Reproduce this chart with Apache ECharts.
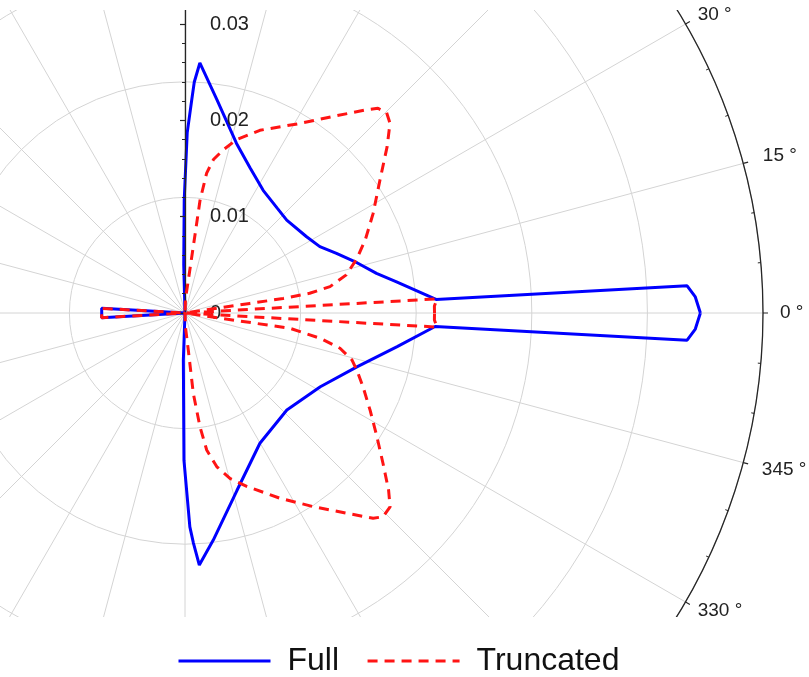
<!DOCTYPE html>
<html>
<head>
<meta charset="utf-8">
<script src="https://cdn.jsdelivr.net/npm/echarts@6/dist/echarts.min.js"></script>
<style>html,body{margin:0;padding:0;background:#fff}#c{width:809px;height:677px}</style>
</head>
<body>
<div id="c"></div>
<script>
// ---- data (angle in degrees, radius in data units) ----
const fullAngle = [0, 1.8, 3.1, 3.1, 8.4, 11.7, 16.3, 21.5, 26.2, 32.1, 42.4, 48.8, 57.5, 65.8, 73.1, 81.5, 86.6, 87.7, 88.2, 89.3, 90.4, 91.5, 92,
  176.7, 176.8, 183.2, 183.3,
  268, 268, 269.6, 271.3, 272.1, 273.25, 277.1, 286.3, 299.9, 316.4, 331.4, 342.6, 351.0, 356.9, 356.9, 358.2, 360];
const fullRadius = [0.0535, 0.0530, 0.0522, 0.0261, 0.0222, 0.0203, 0.0186, 0.0169, 0.0156, 0.0149, 0.0143, 0.0145, 0.0151, 0.0165, 0.0184, 0.0224, 0.0260, 0.0240, 0.0221, 0.0187, 0.0117, 0.0050, 0,
  0, 0.00866, 0.00866, 0,
  0, 0.0049, 0.0153, 0.0222, 0.0239, 0.0262, 0.02375, 0.0192, 0.0156, 0.0146, 0.0160, 0.0187, 0.0223, 0.0260, 0.0522, 0.0530, 0.0535];

const truncAngle = [0, 1.6, 3.2, 3.2, 8.4, 8.4, 8.4, 9.0, 10.3, 13.3, 17.5, 22.1, 27.9, 34.3, 39.5, 42.8, 44.8, 46.7, 48.2, 52.9, 58.8, 67.7, 73.4, 76.8, 79.5, 81.2, 82.4, 82.9, 84.5, 88, 89,
  176.7, 176.8, 183.2, 183.3,
  271, 272, 275.1, 275.9, 277.5, 279, 281.7, 285.2, 289.6, 297.1, 303.5, 308.9, 312.5, 314.2, 316.6, 319, 322.8, 327.2, 332.3, 337.5, 341.6, 344.3, 347.2, 349.4, 351.7, 351.7, 351.7, 356.8, 356.8, 358.4, 360];
const truncRadius = [0.0259, 0.0259, 0.0262, 0, 0, 0.0068, 0.0103, 0.0131, 0.0153, 0.0172, 0.0187, 0.0202, 0.0221, 0.0245, 0.0272, 0.0290, 0.0295, 0.0292, 0.0283, 0.0256, 0.0230, 0.0205, 0.0188, 0.0174, 0.0162, 0.0147, 0.0118, 0.0069, 0.0031, 0.0015, 0,
  0, 0.00866, 0.00866, 0,
  0, 0.0015, 0.0039, 0.0084, 0.0119, 0.0144, 0.0163, 0.0178, 0.0191, 0.0216, 0.0241, 0.0267, 0.0289, 0.0295, 0.0293, 0.0280, 0.0258, 0.0237, 0.0217, 0.0200, 0.0188, 0.0180, 0.0165, 0.0143, 0.0110, 0.0075, 0, 0, 0.0262, 0.0259, 0.0259];

const radialLabelValues = [0, 0.01, 0.02, 0.03];
const angleLabelValues = [-30, -15, 0, 15, 30];
const seriesNames = ['Full', 'Truncated'];

// ---- layout / styles ----
const CENTER = [185, 313];
const R = 578;
const GRID = '#d4d4d4';
const AXIS = '#262626';
const FONT = 'Liberation Sans';

const chart = echarts.init(document.getElementById('c'), null, {renderer: 'canvas'});
const hidden = {show: false};

// rich style key per angle label (fine placement of the text only)
function angleLabelKey(v) {
  if (v === 15) return 'u';
  if (v === -15) return 'd';
  if (v === 0) return 'z';
  return 'e';
}

chart.setOption({
  animation: false,
  textStyle: {fontFamily: FONT},
  polar: [
    {center: CENTER, radius: R},
    {center: CENTER, radius: R},
    {center: CENTER, radius: R},
    {center: CENTER, radius: R}
  ],
  angleAxis: [
    {polarIndex: 0, type: 'value', min: 0, max: 360, interval: 15, startAngle: 0, clockwise: false,
     axisLine: hidden, axisTick: hidden, axisLabel: hidden,
     splitLine: {show: true, lineStyle: {color: GRID, width: 1}}, z: 0},
    {polarIndex: 1, type: 'value', min: 0, max: 360, startAngle: 90, clockwise: false,
     axisLine: hidden, axisTick: hidden, axisLabel: hidden, splitLine: hidden},
    {polarIndex: 2, type: 'value', min: -35, max: 35, startAngle: -35, endAngle: 35, clockwise: false,
     axisLine: {show: true, lineStyle: {color: AXIS, width: 1.3}}, axisTick: hidden, axisLabel: hidden, splitLine: hidden, z: 1},
    {polarIndex: 3, type: 'value', min: -30, max: 30, interval: 15, startAngle: -30, endAngle: 30, clockwise: false,
     axisLine: hidden,
     axisTick: {show: true, length: 5, lineStyle: {color: AXIS, width: 1.2}},
     minorTick: {show: true, splitNumber: 3, length: -3, lineStyle: {color: AXIS, width: 1}},
     axisLabel: {show: true, margin: 14, fontSize: 19, color: '#222', fontFamily: FONT,
       formatter: v => angleLabelValues.indexOf(v) >= 0
         ? '{' + angleLabelKey(v) + '|' + (v < 0 ? v + 360 : v) + ' °}' : '',
       rich: {
         e: {fontSize: 19, fontFamily: FONT, color: '#222', lineHeight: 4},
         u: {fontSize: 19, fontFamily: FONT, color: '#222', padding: [0, 0, 9, 6]},
         d: {fontSize: 19, fontFamily: FONT, color: '#222', padding: [8, 0, 0, 5]},
         z: {fontSize: 19, fontFamily: FONT, color: '#222', padding: [0, 0, 0, 3]}
       }},
     splitLine: hidden, z: 20}
  ],
  radiusAxis: [
    {polarIndex: 0, type: 'value', min: 0, max: 0.06, interval: 0.012,
     axisLine: hidden, axisTick: hidden, axisLabel: hidden,
     splitLine: {show: true, lineStyle: {color: GRID, width: 1}}, z: 0},
    {polarIndex: 1, type: 'value', min: 0, max: 0.06, interval: 0.01,
     axisLine: {show: true, lineStyle: {color: AXIS, width: 1.3}},
     axisTick: {show: true, length: 5, lineStyle: {color: AXIS, width: 1.2}},
     minorTick: {show: true, splitNumber: 5, length: 3, lineStyle: {color: AXIS, width: 1}},
     axisLabel: {show: true, margin: -25, align: 'left', verticalAlign: 'middle', fontSize: 20, color: '#222', fontFamily: FONT,
       formatter: v => {
         const hit = radialLabelValues.find(t => Math.abs(t - v) < 1e-9);
         return hit === undefined ? '' : (hit === 0 ? '0' : hit.toFixed(2));
       }},
     splitLine: hidden, z: 3},
    {polarIndex: 2, type: 'value', min: 0, max: 0.06, axisLine: hidden, axisTick: hidden, axisLabel: hidden, splitLine: hidden},
    {polarIndex: 3, type: 'value', min: 0, max: 0.06, axisLine: hidden, axisTick: hidden, axisLabel: hidden, splitLine: hidden}
  ],
  graphic: [
    {type: 'rect', shape: {x: 0, y: 0, width: 809, height: 10}, style: {fill: '#fff'}, z: 10, silent: true},
    {type: 'rect', shape: {x: 0, y: 617, width: 809, height: 60}, style: {fill: '#fff'}, z: 10, silent: true}
  ],
  legend: {
    data: seriesNames, left: 177, top: 645, padding: 0,
    itemWidth: 92, itemHeight: 30, itemGap: 27,
    itemStyle: {opacity: 0},
    lineStyle: {width: 3},
    textStyle: {fontSize: 32, color: '#111', fontFamily: FONT, padding: [0, 0, 0, 12]},
    z: 30
  },
  series: [
    {name: seriesNames[0], type: 'line', coordinateSystem: 'polar', polarIndex: 0,
     data: fullAngle.map((a, i) => [fullRadius[i], a]),
     symbol: 'none', clip: false, z: 2,
     lineStyle: {color: '#0000ff', width: 3}, itemStyle: {color: '#0000ff'}},
    {name: seriesNames[1], type: 'line', coordinateSystem: 'polar', polarIndex: 0,
     data: truncAngle.map((a, i) => [truncRadius[i], a]),
     symbol: 'none', clip: false, z: 3,
     lineStyle: {color: '#ff1414', width: 3, type: [10, 7]}, itemStyle: {color: '#ff1414'}}
  ]
});
</script>
</body>
</html>
